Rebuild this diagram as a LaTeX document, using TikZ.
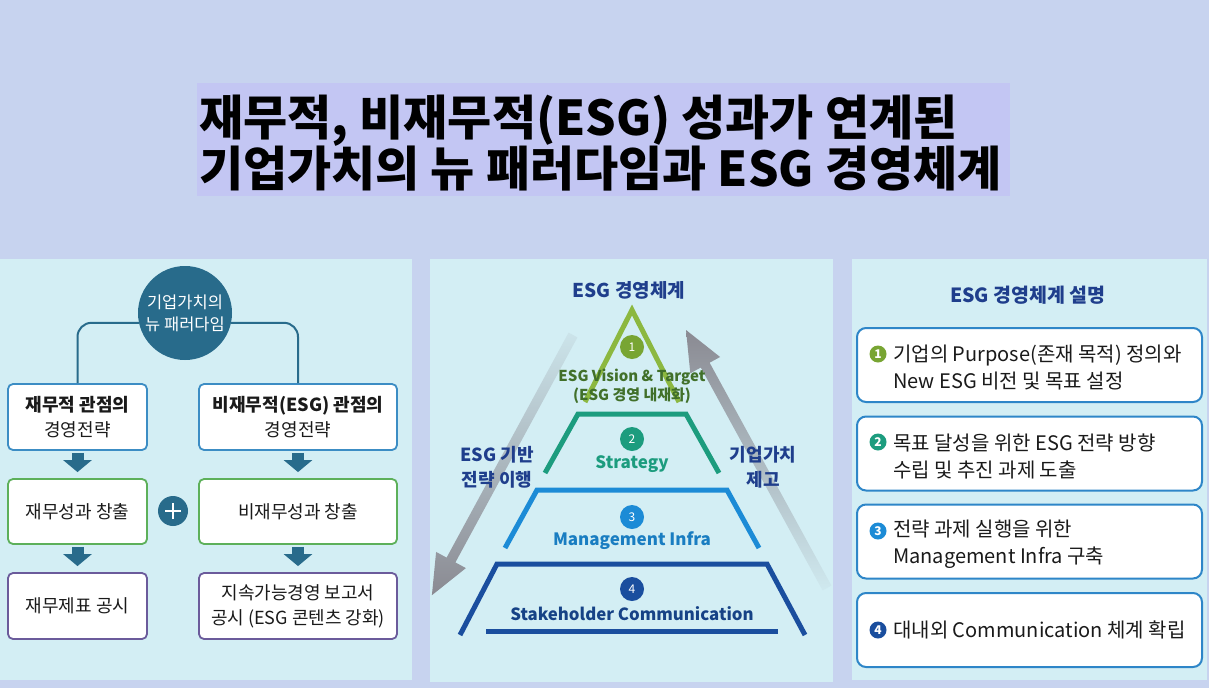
\documentclass[tikz,border=0pt]{standalone}
\usepackage{fontspec}
\setmainfont{Noto Sans CJK KR}
\usetikzlibrary{arrows.meta,calc}
\definecolor{bgc}{HTML}{C7D3EF}
\definecolor{titlec}{HTML}{C3C6F3}
\definecolor{panelc}{HTML}{D3EEF4}
\definecolor{tealc}{HTML}{286B8B}
\definecolor{boxblue}{HTML}{3C8DC4}
\definecolor{boxgreen}{HTML}{5DB05A}
\definecolor{boxpurple}{HTML}{6B5B9B}
\definecolor{textc}{HTML}{1A1A1A}
\definecolor{navyc}{HTML}{1F3E8C}
\definecolor{pgreen}{HTML}{8CB840}
\definecolor{pgreenc}{HTML}{78A533}
\definecolor{pgreent}{HTML}{41702A}
\definecolor{pteal}{HTML}{1C9C7E}
\definecolor{pblue}{HTML}{1C8BD6}
\definecolor{pdblue}{HTML}{1A4E9E}
\definecolor{arrowgray}{HTML}{8A8A92}
\definecolor{rblue}{HTML}{2E86C8}
\begin{document}
\begin{tikzpicture}[x=1pt,y=-1pt,
  lbox/.style={draw, line width=1.8pt, rounded corners=5pt, fill=white, inner sep=0pt,
    align=center, text=textc, font=\fontsize{18}{25}\selectfont},
  blockarrow/.style={line width=12pt, draw=tealc, -{Triangle[width=28pt,length=12pt]},
    shorten <=2pt, shorten >=6pt},
  conn/.style={draw=tealc, line width=2pt, rounded corners=14pt},
  pyr/.style={line width=5pt, line join=miter},
  numc/.style={circle, minimum size=24pt, inner sep=0pt, text=white, font=\fontsize{12}{12}\selectfont},
  ptext/.style={inner sep=0pt, align=center, font=\bfseries\fontsize{18}{25}\selectfont},
  rbox/.style={draw=rblue, line width=2pt, rounded corners=9pt, fill=white,
    minimum width=345pt, minimum height=74pt, inner sep=0pt},
  rtext/.style={anchor=west, inner sep=0pt, align=left, text=textc, font=\fontsize{20}{27}\selectfont},
  bullet/.style={circle, minimum size=17pt, inner sep=0pt, text=white, font=\bfseries\fontsize{12}{12}\selectfont},
  titletext/.style={anchor=west, inner sep=0pt, text=black, font=\bfseries\fontsize{48}{50}\selectfont}
]
\useasboundingbox (0,0) rectangle (1209,688);
\fill[bgc] (0,0) rectangle (1209,688);
% title
\fill[titlec] (197,83) rectangle (1010,196);
\node[titletext] (t1) at (199,121) {재무적, 비재무적(ESG) 성과가 연계된};
\node[titletext] (t2) at (199,169) {기업가치의 뉴 패러다임과 ESG 경영체계};
% panels
\fill[panelc] (0,259) rectangle (412,680);
\fill[panelc] (430,259) rectangle (833,682);
\fill[panelc] (852,259) rectangle (1207,680);

% ---------- left panel
\node[circle, fill=tealc, minimum size=94pt, inner sep=0pt, text=white, align=center,
  font=\fontsize{16.5}{22}\selectfont] (cv) at (185,313) {기업가치의\\뉴 패러다임};
\node[lbox, draw=boxblue, minimum width=139pt, minimum height=66pt] (a1) at (77.5,417) {\textbf{재무적 관점의}\\경영전략};
\node[lbox, draw=boxblue, minimum width=198pt, minimum height=66pt] (b1) at (298,417) {\textbf{비재무적(ESG) 관점의}\\경영전략};
\node[lbox, draw=boxgreen, minimum width=139pt, minimum height=65pt] (a2) at (77.5,511.5) {재무성과 창출};
\node[lbox, draw=boxgreen, minimum width=198pt, minimum height=65pt] (b2) at (298,511.5) {비재무성과 창출};
\node[lbox, draw=boxpurple, minimum width=139pt, minimum height=66pt] (a3) at (77.5,606) {재무제표 공시};
\node[lbox, draw=boxpurple, minimum width=198pt, minimum height=66pt] (b3) at (298,606) {지속가능경영 보고서\\공시 (ESG 콘텐츠 강화)};
\draw[conn] (cv.192) -| (a1.north);
\draw[conn] (cv.348) -| (b1.north);
\draw[blockarrow] (a1) -- (a2);
\draw[blockarrow] (a2) -- (a3);
\draw[blockarrow] (b1) -- (b2);
\draw[blockarrow] (b2) -- (b3);
\node[circle, fill=tealc, minimum size=30pt, inner sep=0pt] (plus) at (173,511) {};
\draw[white, line width=2.6pt] ([xshift=-8pt]plus.center) -- ([xshift=8pt]plus.center);
\draw[white, line width=2.6pt] ([yshift=-8pt]plus.center) -- ([yshift=8pt]plus.center);

% ---------- middle panel: gray arrows
\shade[top color=arrowgray!10!panelc, bottom color=arrowgray]
  (577.4,337.4) -- (455.4,562.4) -- (465.9,568.1) -- (431.9,595.2) -- (436.1,551.9) -- (446.6,557.6) -- (568.6,332.6) -- cycle;
\shade[top color=arrowgray, middle color=arrowgray!85!panelc, bottom color=arrowgray!5!panelc]
  (831.4,585.6) -- (709.6,362.7) -- (720.1,357.0) -- (686,330) -- (690.3,373.3) -- (700.8,367.5) -- (822.6,590.4) -- cycle;
% pyramid
\draw[pyr, pgreen] (585,402) -- (632,310) -- (679,402);
\draw[pyr, pteal] (545,473) -- (578,414) -- (686,414) -- (719,473);
\draw[pyr, pblue] (505,548) -- (537,490) -- (727,490) -- (759,548);
\draw[pyr, pdblue] (460,635) -- (497,564) -- (767,564) -- (805,635);
\draw[pyr, pdblue] (486,631) -- (778,631);
\node[numc, fill=pgreenc] (n1) at (632,347) {1};
\node[numc, fill=pteal] (n2) at (632,439) {2};
\node[numc, fill=pblue] (n3) at (632,517) {3};
\node[numc, fill=pdblue] (n4) at (632,589) {4};
\node[ptext, text=navyc, font=\bfseries\fontsize{19}{25}\selectfont] (mt) at (629,290) {ESG 경영체계};
\node[ptext, text=pgreent, font=\bfseries\fontsize{15}{19}\selectfont] (l1) at (632,386) {ESG Vision \& Target\\(ESG 경영 내재화)};
\node[ptext, text=pteal, font=\bfseries\fontsize{17}{25}\selectfont] (l2) at (632,464) {Strategy};
\node[ptext, text=pblue!90!black, font=\bfseries\fontsize{17}{25}\selectfont] (l3) at (632,541) {Management Infra};
\node[ptext, text=pdblue!85!black, font=\bfseries\fontsize{16.8}{25}\selectfont] (l4) at (632,614) {Stakeholder Communication};
\node[ptext, text=navyc] (sl) at (497,467) {ESG 기반\\전략 이행};
\node[ptext, text=navyc] (sr) at (763,467) {기업가치\\제고};

% ---------- right panel
\node[ptext, text=navyc, font=\bfseries\fontsize{19.5}{25}\selectfont] (rt) at (1028,295) {ESG 경영체계 설명};
\node[rbox] (r1) at (1029.5,365) {};
\node[rbox] (r2) at (1029.5,453.5) {};
\node[rbox] (r3) at (1029.5,541.5) {};
\node[rbox] (r4) at (1029.5,630) {};
\node[bullet, fill=pgreenc] (q1) at (878,354) {1};
\node[bullet, fill=pteal] (q2) at (878,442) {2};
\node[bullet, fill=pblue] (q3) at (878,531) {3};
\node[bullet, fill=pdblue] (q4) at (878,630) {4};
\node[rtext] (x1) at (893,367.5) {기업의 Purpose(존재 목적) 정의와\\New ESG 비전 및 목표 설정};
\node[rtext] (x2) at (893,456) {목표 달성을 위한 ESG 전략 방향\\수립 및 추진 과제 도출};
\node[rtext] (x3) at (893,544.5) {전략 과제 실행을 위한\\Management Infra 구축};
\node[rtext] (x4) at (893,630) {대내외 Communication 체계 확립};
\end{tikzpicture}
\end{document}
